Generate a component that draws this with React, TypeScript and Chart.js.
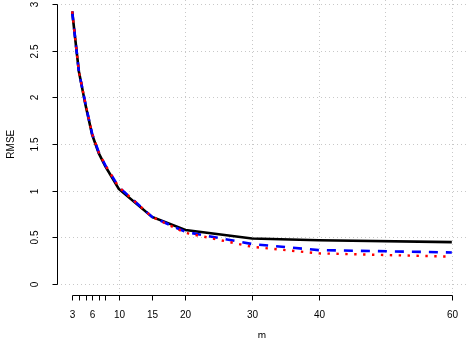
import React, { useEffect, useRef } from "react";
import { Chart, registerables } from "chart.js";

Chart.register(...registerables);

const mValues = [3, 4, 5, 6, 7, 8, 10, 15, 20, 30, 40, 60];
const solidSeries = [2.92, 2.28, 1.92, 1.6, 1.4, 1.26, 1.02, 0.72, 0.58, 0.49, 0.47, 0.45];
const dashedSeries = [2.92, 2.28, 1.93, 1.61, 1.41, 1.27, 1.04, 0.72, 0.56, 0.43, 0.365, 0.34];
const dottedSeries = [2.92, 2.28, 1.93, 1.61, 1.41, 1.27, 1.04, 0.72, 0.55, 0.4, 0.33, 0.295];

const xTickValues = [3, 4, 5, 6, 7, 8, 10, 15, 20, 30, 40, 60];
const xTickLabels = ["3", "", "", "6", "", "", "10", "15", "20", "30", "40", "60"];
const yTickValues = [0, 0.5, 1, 1.5, 2, 2.5, 3];
const yTickLabels = ["0", "0.5", "1", "1.5", "2", "2.5", "3"];
const xGridValues = [10, 20, 30, 40, 50, 60];
const yGridValues = [0, 0.5, 1, 1.5, 2, 2.5, 3];

const xTitle = "m";
const yTitle = "RMSE";

const FONT = '10px "Liberation Sans", Arial, sans-serif';

const rAxesPlugin = {
  id: "rAxes",
  beforeDatasetsDraw(chart: any) {
    const { ctx, chartArea, scales } = chart;
    const xs = scales.x;
    const ys = scales.y;
    ctx.save();
    ctx.strokeStyle = "#c8c8c8";
    ctx.lineWidth = 1;
    ctx.setLineDash([1, 3]);
    for (const v of xGridValues) {
      const px = Math.round(xs.getPixelForValue(v)) + 0.5;
      ctx.beginPath();
      ctx.moveTo(px, chartArea.top);
      ctx.lineTo(px, chartArea.bottom);
      ctx.stroke();
    }
    for (const v of yGridValues) {
      const py = Math.round(ys.getPixelForValue(v)) + 0.5;
      ctx.beginPath();
      ctx.moveTo(chartArea.left, py);
      ctx.lineTo(chartArea.right, py);
      ctx.stroke();
    }
    ctx.restore();
  },
  afterDatasetsDraw(chart: any) {
    const { ctx, chartArea, scales } = chart;
    const xs = scales.x;
    const ys = scales.y;
    ctx.save();
    ctx.strokeStyle = "#000";
    ctx.fillStyle = "#000";
    ctx.lineWidth = 1;
    ctx.setLineDash([]);
    ctx.font = FONT;

    // x axis
    const axY = Math.round(chartArea.bottom) + 0.5;
    const x0 = Math.round(xs.getPixelForValue(xTickValues[0])) + 0.5;
    const x1 = Math.round(xs.getPixelForValue(xTickValues[xTickValues.length - 1])) + 0.5;
    ctx.beginPath();
    ctx.moveTo(x0, axY);
    ctx.lineTo(x1, axY);
    ctx.stroke();
    ctx.textAlign = "center";
    ctx.textBaseline = "alphabetic";
    xTickValues.forEach((v, i) => {
      const px = Math.round(xs.getPixelForValue(v)) + 0.5;
      ctx.beginPath();
      ctx.moveTo(px, axY);
      ctx.lineTo(px, axY + 5);
      ctx.stroke();
      if (xTickLabels[i]) ctx.fillText(xTickLabels[i], px, axY + 22);
    });
    ctx.fillText(xTitle, (chartArea.left + chartArea.right) / 2, 339);

    // y axis
    const axX = Math.round(chartArea.left) + 0.5;
    const yA = Math.round(ys.getPixelForValue(yTickValues[0])) + 0.5;
    const yB = Math.round(ys.getPixelForValue(yTickValues[yTickValues.length - 1])) + 0.5;
    ctx.beginPath();
    ctx.moveTo(axX, yA);
    ctx.lineTo(axX, yB);
    ctx.stroke();
    yTickValues.forEach((v, i) => {
      const py = Math.round(ys.getPixelForValue(v)) + 0.5;
      ctx.beginPath();
      ctx.moveTo(axX - 5, py);
      ctx.lineTo(axX, py);
      ctx.stroke();
      ctx.save();
      ctx.translate(axX - 20, py);
      ctx.rotate(-Math.PI / 2);
      ctx.textAlign = "center";
      ctx.textBaseline = "alphabetic";
      ctx.fillText(yTickLabels[i], 0, 0);
      ctx.restore();
    });
    ctx.save();
    ctx.translate(14, (chartArea.top - 7 + chartArea.bottom) / 2);
    ctx.rotate(-Math.PI / 2);
    ctx.textAlign = "center";
    ctx.textBaseline = "alphabetic";
    ctx.fillText(yTitle, 0, 0);
    ctx.restore();
    ctx.restore();
  },
};

export default function App() {
  const canvasRef = useRef<HTMLCanvasElement | null>(null);

  useEffect(() => {
    document.body.style.margin = "0";
    const canvas = canvasRef.current;
    if (!canvas) return;
    const toPoints = (arr: number[]) => mValues.map((m, i) => ({ x: m, y: arr[i] }));
    const chart = new Chart(canvas, {
      type: "line",
      data: {
        datasets: [
          {
            label: "solid",
            data: toPoints(solidSeries),
            borderColor: "#000000",
            borderWidth: 2.6,
            pointRadius: 0,
            tension: 0,
            fill: false,
            order: 3,
          },
          {
            label: "dashed",
            data: toPoints(dashedSeries),
            borderColor: "#0000ff",
            borderWidth: 2.6,
            borderDash: [9, 8],
            borderCapStyle: "butt",
            pointRadius: 0,
            tension: 0,
            fill: false,
            order: 2,
          },
          {
            label: "dotted",
            data: toPoints(dottedSeries),
            borderColor: "#ff0000",
            borderWidth: 2.4,
            borderDash: [2.4, 6.5],
            borderCapStyle: "butt",
            pointRadius: 0,
            tension: 0,
            fill: false,
            order: 1,
          },
        ],
      },
      options: {
        animation: false,
        responsive: true,
        maintainAspectRatio: false,
        layout: { padding: { left: 57, right: 1, top: 0, bottom: 42.6 } },
        plugins: { legend: { display: false }, tooltip: { enabled: false } },
        scales: {
          x: { type: "linear", min: 0.72, max: 62.28, display: false },
          y: { type: "linear", min: -0.12, max: 3.043, display: false },
        },
      },
      plugins: [rAxesPlugin],
    });
    return () => chart.destroy();
  }, []);

  return (
    <div style={{ position: "absolute", left: 0, top: 0, width: 468, height: 338, background: "#fff" }}>
      <canvas ref={canvasRef} />
    </div>
  );
}
